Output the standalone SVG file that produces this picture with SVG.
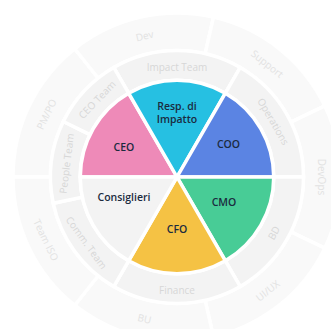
<svg xmlns="http://www.w3.org/2000/svg" width="331" height="329" viewBox="0 0 331 329">
<style>
.seg{stroke:#ffffff;stroke-width:3.5;stroke-linejoin:miter}
.mid{fill:#f3f3f3}
.out{fill:#f9f9f9}
.in{font-family:"Open Sans","Noto Sans",sans-serif;font-size:10.5px;font-weight:600;fill:#1b2b3f;text-anchor:middle;dominant-baseline:central}
.ml{font-family:"Open Sans","Noto Sans",sans-serif;font-size:10px;fill:#d7d7d7;text-anchor:middle;dominant-baseline:central}
.ol{font-family:"Open Sans","Noto Sans",sans-serif;font-size:10px;fill:#e2e2e2;text-anchor:middle;dominant-baseline:central}
</style>
<rect width="331" height="329" fill="#ffffff"/>
<g id="outer-ring">
<g id="pmpo"><path class="seg out" d="M13,177 A164,164 0 0 1 74.75,48.78 L98.13,78.1 A126.5,126.5 0 0 0 50.5,177 Z"/><text class="ol" transform="translate(46.3,114.1) rotate(-64.3)">PM/PO</text></g>
<g id="dev"><path class="seg out" d="M74.75,48.78 A164,164 0 0 1 213.49,17.11 L205.15,53.67 A126.5,126.5 0 0 0 98.13,78.1 Z"/><text class="ol" transform="translate(144.6,35.6) rotate(-12.9)">Dev</text></g>
<g id="support"><path class="seg out" d="M213.49,17.11 A164,164 0 0 1 324.76,105.84 L290.97,122.11 A126.5,126.5 0 0 0 205.15,53.67 Z"/><text class="ol" transform="translate(267.5,63.6) rotate(38.6)">Support</text></g>
<g id="devops"><path class="seg out" d="M324.76,105.84 A164,164 0 0 1 324.76,248.16 L290.97,231.89 A126.5,126.5 0 0 0 290.97,122.11 Z"/><text class="ol" transform="translate(322,177) rotate(90)">DevOps</text></g>
<g id="uiux"><path class="seg out" d="M324.76,248.16 A164,164 0 0 1 213.49,336.89 L205.15,300.33 A126.5,126.5 0 0 0 290.97,231.89 Z"/><text class="ol" transform="translate(267.5,290.4) rotate(-38.6)">UI/UX</text></g>
<g id="bu"><path class="seg out" d="M213.49,336.89 A164,164 0 0 1 74.75,305.22 L98.13,275.9 A126.5,126.5 0 0 0 205.15,300.33 Z"/><text class="ol" transform="translate(144.6,318.4) rotate(12.9)">BU</text></g>
<g id="teamiso"><path class="seg out" d="M74.75,305.22 A164,164 0 0 1 13,177 L50.5,177 A126.5,126.5 0 0 0 98.13,275.9 Z"/><text class="ol" transform="translate(46.3,239.9) rotate(64.3)">Team ISO</text></g>
</g>
<g id="middle-ring">
<g id="impact-team"><path class="seg mid" d="M113.75,67.45 A126.5,126.5 0 0 1 240.25,67.45 L225.375,93.21 A96.75,96.75 0 0 0 128.625,93.21 Z"/><text class="ml" x="177" y="66.5">Impact Team</text></g>
<g id="operations"><path class="seg mid" d="M240.25,67.45 A126.5,126.5 0 0 1 303.5,177 L273.75,177 A96.75,96.75 0 0 0 225.375,93.21 Z"/><text class="ml" transform="translate(273.6,121.25) rotate(60)">Operations</text></g>
<g id="bd"><path class="seg mid" d="M303.5,177 A126.5,126.5 0 0 1 240.25,286.55 L225.375,260.79 A96.75,96.75 0 0 0 273.75,177 Z"/><text class="ml" transform="translate(273.6,232.75) rotate(-60)">BD</text></g>
<g id="finance"><path class="seg mid" d="M240.25,286.55 A126.5,126.5 0 0 1 113.75,286.55 L128.625,260.79 A96.75,96.75 0 0 0 225.375,260.79 Z"/><text class="ml" x="177" y="289.5">Finance</text></g>
<g id="comm-team"><path class="seg mid" d="M113.75,286.55 A126.5,126.5 0 0 1 53.26,203.3 L82.36,197.12 A96.75,96.75 0 0 0 128.625,260.79 Z"/><text class="ml" transform="translate(86.8,242.5) rotate(54)">Comm. Team</text></g>
<g id="people-team"><path class="seg mid" d="M53.26,203.3 A126.5,126.5 0 0 1 63.3,121.55 L90.04,134.59 A96.75,96.75 0 0 0 82.36,197.12 Z"/><text class="ml" transform="translate(66.3,163.4) rotate(-83)">People Team</text></g>
<g id="ceo-team"><path class="seg mid" d="M63.3,121.55 A126.5,126.5 0 0 1 113.75,67.45 L128.625,93.21 A96.75,96.75 0 0 0 90.04,134.59 Z"/><text class="ml" transform="translate(96.8,99.5) rotate(-46)">CEO Team</text></g>
</g>
<g id="inner">
<g id="ceo"><path class="seg" fill="#ee8ab8" d="M177,177 L80.25,177 A96.75,96.75 0 0 1 128.625,93.21 Z"/><text class="in" x="124" y="147">CEO</text></g>
<g id="resp"><path class="seg" fill="#26c0e2" d="M177,177 L128.625,93.21 A96.75,96.75 0 0 1 225.375,93.21 Z"/><text class="in" x="177" y="105.5">Resp. di</text><text class="in" x="177" y="119">Impatto</text></g>
<g id="coo"><path class="seg" fill="#5b84e3" d="M177,177 L225.375,93.21 A96.75,96.75 0 0 1 273.75,177 Z"/><text class="in" x="228.5" y="144">COO</text></g>
<g id="cmo"><path class="seg" fill="#48cc96" d="M177,177 L273.75,177 A96.75,96.75 0 0 1 225.375,260.79 Z"/><text class="in" x="224" y="202">CMO</text></g>
<g id="cfo"><path class="seg" fill="#f5c244" d="M177,177 L225.375,260.79 A96.75,96.75 0 0 1 128.625,260.79 Z"/><text class="in" x="177" y="229">CFO</text></g>
<g id="consiglieri"><path class="seg" fill="#f3f3f3" d="M177,177 L128.625,260.79 A96.75,96.75 0 0 1 80.25,177 Z"/><text class="in" x="124" y="197">Consiglieri</text></g>
</g>
<g id="connectors"></g>
</svg>
